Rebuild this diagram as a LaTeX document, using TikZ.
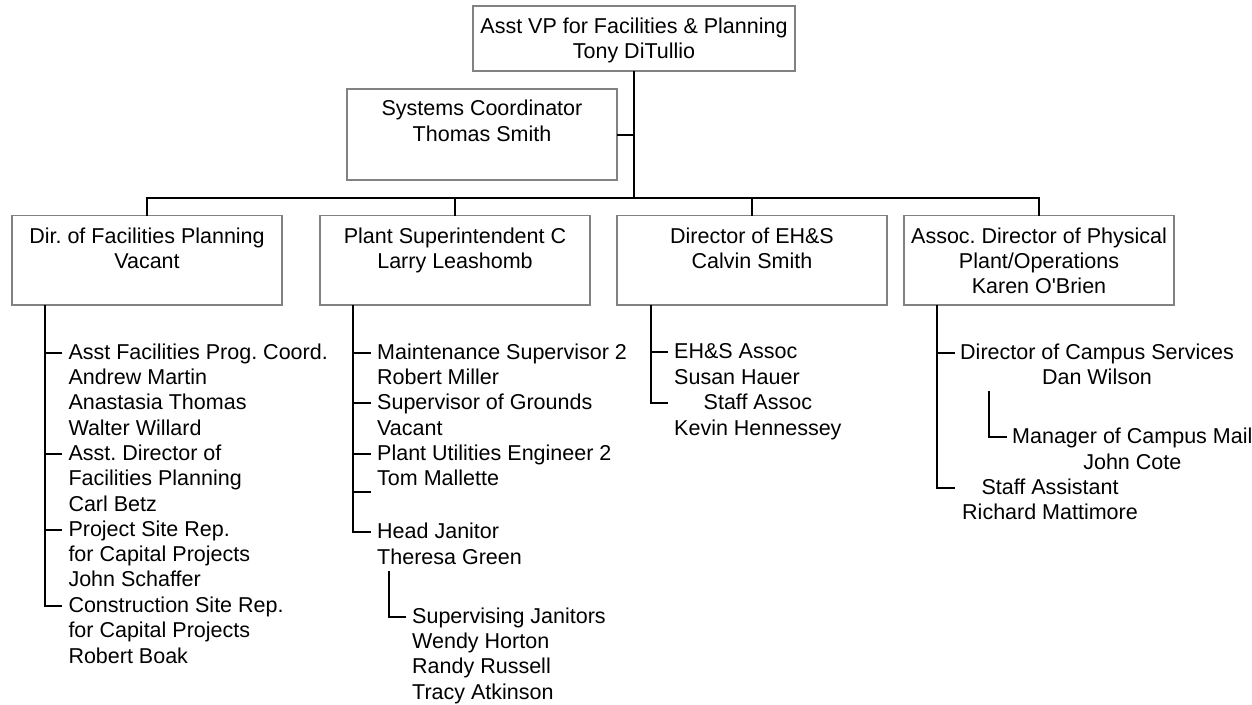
\documentclass[tikz,border=0pt]{standalone}
\usepackage{fontspec}
\setmainfont{Liberation Sans}
\newfontfamily\chartfam{Liberation Sans}
\definecolor{boxgray}{RGB}{130,130,130}
\newcommand\chartfont{\chartfam\frenchspacing\fontsize{21.5}{25.3}\selectfont}
\newcommand\fst{\rule{0pt}{17pt}}
\tikzset{
  orgbox/.style={draw=boxgray, line width=1.5pt, inner sep=0pt, outer sep=0pt, rectangle, fill=white},
  boxtext/.style={anchor=north, inner sep=0pt, align=center, font=\chartfont},
  entry/.style={anchor=north west, inner sep=0pt, align=left, font=\chartfont},
  centry/.style={anchor=north west, inner sep=0pt, align=center, font=\chartfont},
  conn/.style={draw=black, line width=2pt, line join=miter},
  lvl/.style={orgbox, minimum width=270pt, minimum height=89.5pt}
}
\begin{document}
\begin{tikzpicture}[x=1pt,y=-1pt]
\useasboundingbox (0,0) rectangle (1252,704);

% ---------- boxes ----------
\node[orgbox, minimum width=322pt, minimum height=65pt] (vp) at (634,38.5) {};
\node[boxtext] (vpt) at ([yshift=-10.3pt]vp.north) {\fst Asst VP for Facilities \& Planning\\Tony DiTullio};

\node[orgbox, minimum width=270pt, minimum height=91pt] (sys) at (482,134.5) {};
\node[boxtext] (syst) at ([yshift=-9.5pt]sys.north) {\fst Systems Coordinator\\Thomas Smith};

\node[lvl] (b1) at (147,260.25) {};
\node[lvl] (b2) at (455,260.25) {};
\node[lvl] (b3) at (752,260.25) {};
\node[lvl] (b4) at (1039,260.25) {};
\node[boxtext] (b1t) at ([yshift=-10.5pt]b1.north) {\fst Dir. of Facilities Planning\\Vacant};
\node[boxtext] (b2t) at ([yshift=-10.5pt]b2.north) {\fst Plant Superintendent C\\Larry Leashomb};
\node[boxtext] (b3t) at ([yshift=-10.5pt]b3.north) {\fst Director of EH\&S\\Calvin Smith};
\node[boxtext] (b4t) at ([yshift=-10.5pt]b4.north) {\fst Assoc. Director of Physical\\Plant/Operations\\Karen O\char"0027 Brien};

% ---------- top connectors ----------
\coordinate (hub) at (634,198);
\draw[conn] (vp.south) -- (hub);
\draw[conn] (sys.east) -- (sys.east -| hub);
\draw[conn] (b1.north) -- (b1.north |- hub) -- (b4.north |- hub) -- (b4.north);
\draw[conn] (b2.north |- hub) -- (b2.north);
\draw[conn] (b3.north |- hub) -- (b3.north);

% ---------- trunks ----------
\coordinate (tr1) at ([xshift=-102pt]b1.south);
\coordinate (tr2) at ([xshift=-102pt]b2.south);
\coordinate (tr3) at ([xshift=-101.3pt]b3.south);
\coordinate (tr4) at ([xshift=-102pt]b4.south);

% ---------- column 1 ----------
\node[entry] (e11) at (68.3,342) {\fst Asst Facilities Prog. Coord.\\Andrew Martin\\Anastasia Thomas\\Walter Willard};
\node[entry] (e12) at (68.3,443.2) {\fst Asst. Director of\\Facilities Planning\\Carl Betz};
\node[entry] (e13) at (68.3,519.1) {\fst Project Site Rep.\\for Capital Projects\\John Schaffer};
\node[entry] (e14) at (68.3,595.3) {\fst Construction Site Rep.\\for Capital Projects\\Robert Boak};
\foreach \e in {e11,e12,e13,e14}{
  \coordinate (\e k) at ([xshift=-6.3pt,yshift=-10.5pt]\e.north west);
}
\draw[conn] (tr1) |- (e14k);
\foreach \e in {e11,e12,e13}{ \draw[conn] (\e k) -- (\e k -| tr1); }

% ---------- column 2 ----------
\node[entry] (e21) at (377,342) {\fst Maintenance Supervisor 2\\Robert Miller};
\node[entry] (e22) at (377,392.6) {\fst Supervisor of Grounds\\Vacant};
\node[entry] (e23) at (377,443.2) {\fst Plant Utilities Engineer 2\\Tom Mallette};
\node[entry] (e24) at (377,521.5) {\fst Head Janitor\\Theresa Green};
\node[entry] (e25) at (412,606) {\fst Supervising Janitors\\Wendy Horton\\Randy Russell\\Tracy Atkinson};
\foreach \e in {e21,e22,e23,e24,e25}{
  \coordinate (\e k) at ([xshift=-6pt,yshift=-10.5pt]\e.north west);
}
\coordinate (gap2) at (371,491.7);
\draw[conn] (tr2) |- (e24k);
\foreach \e in {e21k,e22k,e23k,gap2}{ \draw[conn] (\e) -- (\e -| tr2); }
\draw[conn] ([xshift=12pt,yshift=-6.5pt]e24.south west) |- (e25k);

% ---------- column 3 ----------
\node[entry] (e31) at (674,341.5) {\fst EH\&S Assoc\\Susan Hauer};
\node[centry] (e32) at (674,392.5) {\fst Staff Assoc\\Kevin Hennessey};
\coordinate (e31k) at ([xshift=-6pt,yshift=-10.5pt]e31.north west);
\coordinate (e32k) at ([xshift=-6pt,yshift=-10.5pt]e32.north west);
\draw[conn] (tr3) |- (e32k);
\draw[conn] (e31k) -- (e31k -| tr3);

% ---------- column 4 ----------
\node[centry] (e41) at (960,342) {\fst Director of Campus Services\\Dan Wilson};
\node[centry] (e42) at (1012,426.5) {\fst Manager of Campus Mail\\John Cote};
\node[centry] (e43) at (962,477) {\fst Staff Assistant\\Richard Mattimore};
\coordinate (e41k) at ([xshift=-5pt,yshift=-10.5pt]e41.north west);
\coordinate (e42k) at ([xshift=-5pt,yshift=-10.5pt]e42.north west);
\coordinate (e43k) at ([xshift=-7pt,yshift=-10.5pt]e43.north west);
\draw[conn] (tr4) |- (e43k);
\draw[conn] (e41k) -- (e41k -| tr4);
\draw[conn] ([xshift=29pt,yshift=-5.7pt]e41.south west) |- (e42k);
\end{tikzpicture}
\end{document}
